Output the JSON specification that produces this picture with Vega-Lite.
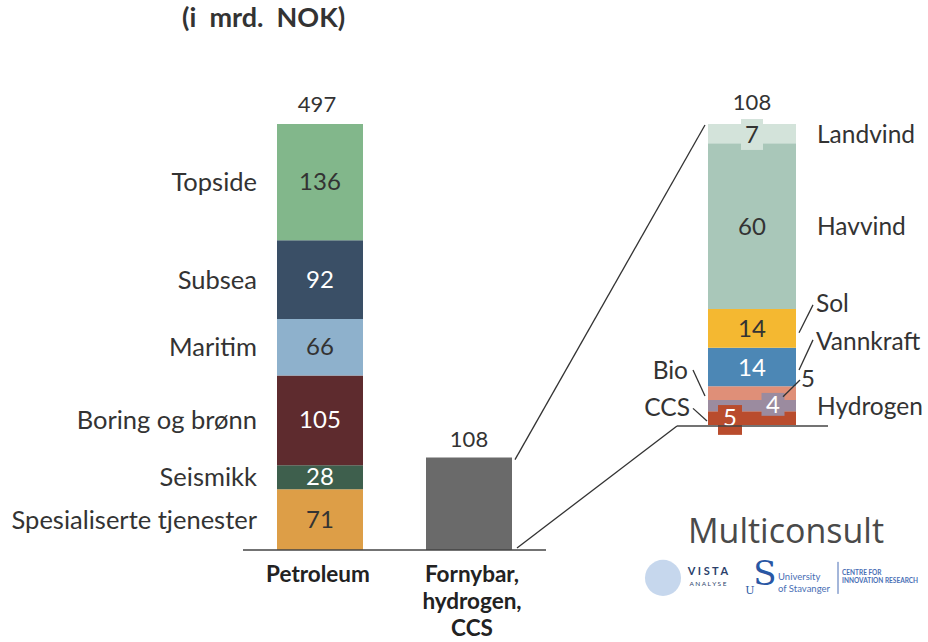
{
  "$schema": "https://vega.github.io/schema/vega-lite/v6.json",
  "width": 518,
  "height": 426,
  "autosize": "none",
  "padding": {"left": 277, "top": 124, "right": 133, "bottom": 92},
  "background": "white",
  "title": {"text": "(i\u00a0\u00a0mrd.\u00a0\u00a0NOK)", "anchor": "start", "frame": "group", "fontSize": 27, "font": "Lato", "fontWeight": "bold", "color": "#333333", "dx": -95, "offset": 59},
  "datasets": {
    "bars": [
      {"group": "Petroleum", "segment": "Spesialiserte tjenester", "value": 71, "rank": 1},
      {"group": "Petroleum", "segment": "Seismikk", "value": 28, "rank": 2},
      {"group": "Petroleum", "segment": "Boring og brønn", "value": 105, "rank": 3},
      {"group": "Petroleum", "segment": "Maritim", "value": 66, "rank": 4},
      {"group": "Petroleum", "segment": "Subsea", "value": 92, "rank": 5},
      {"group": "Petroleum", "segment": "Topside", "value": 136, "rank": 6},
      {"group": "Fornybar, hydrogen, CCS", "segment": "Fornybar, hydrogen, CCS", "value": 108, "rank": 1}
    ],
    "zoom": [
      {"group": "zoom", "segment": "CCS", "value": 5, "rank": 1},
      {"group": "zoom", "segment": "Hydrogen", "value": 4, "rank": 2},
      {"group": "zoom", "segment": "Bio", "value": 5, "rank": 3},
      {"group": "zoom", "segment": "Vannkraft", "value": 14, "rank": 4},
      {"group": "zoom", "segment": "Sol", "value": 14, "rank": 5},
      {"group": "zoom", "segment": "Havvind", "value": 60, "rank": 6},
      {"group": "zoom", "segment": "Landvind", "value": 7, "rank": 7}
    ],
    "totals": [
      {"group": "Petroleum", "total": 497},
      {"group": "Fornybar, hydrogen, CCS", "total": 108},
      {"group": "zoom", "total": 108}
    ],
    "one": [{}]
  },
  "layer": [
    {
      "layer": [
        {
          "data": {"name": "bars"},
          "transform": [{"filter": "datum.group == 'Petroleum'"}],
          "mark": {"type": "bar"},
          "encoding": {
            "x": {"field": "group", "type": "nominal",
                  "scale": {"type": "band", "domain": ["Petroleum", "Fornybar, hydrogen, CCS", "gap", "zoom"], "paddingInner": 0.4028, "paddingOuter": 0},
                  "axis": {"title": null, "domain": false, "ticks": false, "labelAngle": 0, "labelFont": "Lato", "labelFontWeight": "bold", "labelFontSize": 22.5, "labelColor": "#222222", "labelPadding": 13, "labelBaseline": "top", "labelLineHeight": 27, "labelLimit": 0, "labelOverlap": false, "labelBound": false,
                           "labelOffset": {"condition": {"test": "datum.value == 'Fornybar, hydrogen, CCS'", "value": 8}, "value": -2},
                           "labelExpr": "datum.value == 'Fornybar, hydrogen, CCS' ? ['Fornybar,', 'hydrogen,', 'CCS'] : (datum.value == 'Petroleum' ? 'Petroleum' : '')"}},
            "y": {"field": "value", "type": "quantitative", "stack": "zero", "scale": {"domain": [0, 498], "nice": false, "zero": false}, "axis": null},
            "color": {"field": "segment", "type": "nominal",
                      "scale": {"domain": ["Topside", "Subsea", "Maritim", "Boring og brønn", "Seismikk", "Spesialiserte tjenester", "Fornybar, hydrogen, CCS", "Landvind", "Havvind", "Sol", "Vannkraft", "Bio", "Hydrogen", "CCS"],
                                "range": ["#82b78b", "#3a4f66", "#8eb1cc", "#5e2b2e", "#3e5f4d", "#dd9e47", "#6a6a6a", "#d3e3da", "#a9c7b9", "#f4b831", "#4c87b5", "#df8f78", "#9b8b9f", "#b94c2d"]},
                      "legend": null},
            "order": {"field": "rank", "type": "quantitative", "sort": "ascending"}
          }
        },
        {
          "data": {"name": "bars"},
          "transform": [{"filter": "datum.group != 'Petroleum'"}],
          "mark": {"type": "bar", "xOffset": 5},
          "encoding": {
            "x": {"field": "group", "type": "nominal"},
            "y": {"field": "value", "type": "quantitative", "stack": "zero", "axis": null},
            "color": {"field": "segment", "type": "nominal", "legend": null},
            "order": {"field": "rank", "type": "quantitative"}
          }
        },
        {
          "data": {"name": "bars"},
          "transform": [{"filter": "datum.group == 'Petroleum'"}],
          "mark": {"type": "text", "fontSize": 24, "baseline": "middle", "dy": 1},
          "encoding": {
            "x": {"field": "group", "type": "nominal"},
            "y": {"field": "value", "type": "quantitative", "stack": "zero", "bandPosition": 0.5, "axis": null},
            "detail": {"field": "segment"},
            "order": {"field": "rank", "type": "quantitative"},
            "text": {"field": "value", "type": "quantitative"},
            "color": {"condition": {"test": "indexof(['Subsea', 'Boring og brønn', 'Seismikk'], datum.segment) >= 0", "value": "#ffffff"}, "value": "#333333"}
          }
        },
        {
          "data": {"name": "bars"},
          "transform": [{"filter": "datum.group == 'Petroleum'"}],
          "mark": {"type": "text", "fontSize": 25.5, "align": "right", "baseline": "middle", "dx": -63, "dy": 1, "color": "#333333"},
          "encoding": {
            "x": {"field": "group", "type": "nominal"},
            "y": {"field": "value", "type": "quantitative", "stack": "zero", "bandPosition": 0.5, "axis": null},
            "detail": {"field": "segment"},
            "order": {"field": "rank", "type": "quantitative"},
            "text": {"field": "segment", "type": "nominal"}
          }
        },
        {
          "data": {"name": "totals"},
          "transform": [{"filter": "datum.group == 'Petroleum'"}],
          "mark": {"type": "text", "fontSize": 22, "baseline": "middle", "dy": -20, "dx": -3, "color": "#333333"},
          "encoding": {
            "x": {"field": "group", "type": "nominal"},
            "y": {"field": "total", "type": "quantitative", "axis": null},
            "text": {"field": "total", "type": "quantitative"}
          }
        },
        {
          "data": {"name": "totals"},
          "transform": [{"filter": "datum.group == 'Fornybar, hydrogen, CCS'"}],
          "mark": {"type": "text", "fontSize": 22, "baseline": "middle", "dy": -18, "dx": 5, "color": "#333333"},
          "encoding": {
            "x": {"field": "group", "type": "nominal"},
            "y": {"field": "total", "type": "quantitative", "axis": null},
            "text": {"field": "total", "type": "quantitative"}
          }
        },
        {
          "data": {"name": "one"},
          "mark": {"type": "rule", "color": "#444444", "strokeWidth": 1.5, "xOffset": -77, "x2Offset": 82},
          "encoding": {
            "x": {"datum": "Petroleum", "type": "nominal", "bandPosition": 0.5},
            "x2": {"datum": "Fornybar, hydrogen, CCS", "bandPosition": 0.5},
            "y": {"datum": 0, "type": "quantitative", "axis": null}
          }
        },
        {
          "data": {"name": "one"},
          "mark": {"type": "rule", "color": "#333333", "strokeWidth": 1.3, "xOffset": 51, "yOffset": 2, "x2Offset": -47, "y2Offset": 1},
          "encoding": {
            "x": {"datum": "Fornybar, hydrogen, CCS", "type": "nominal", "bandPosition": 0.5},
            "x2": {"datum": "zoom", "bandPosition": 0.5},
            "y": {"datum": 108, "type": "quantitative", "axis": null},
            "y2": {"datum": 498}
          }
        },
        {
          "data": {"name": "one"},
          "mark": {"type": "rule", "color": "#333333", "strokeWidth": 1.3, "xOffset": 53, "yOffset": -2, "x2Offset": -75},
          "encoding": {
            "x": {"datum": "Fornybar, hydrogen, CCS", "type": "nominal", "bandPosition": 0.5},
            "x2": {"datum": "zoom", "bandPosition": 0.5},
            "y": {"datum": 0, "type": "quantitative", "axis": null},
            "y2": {"datum": 145}
          }
        }
      ]
    },
    {
      "layer": [
        {
          "data": {"name": "zoom"},
          "mark": {"type": "bar", "width": 88},
          "encoding": {
            "x": {"field": "group", "type": "nominal"},
            "y": {"field": "value", "type": "quantitative", "stack": "zero", "scale": {"domain": [-45.3, 109], "nice": false, "zero": false}, "axis": null},
            "color": {"field": "segment", "type": "nominal", "legend": null},
            "order": {"field": "rank", "type": "quantitative"}
          }
        },
        {
          "data": {"name": "one"},
          "mark": {"type": "bar", "width": 22, "color": "#d3e3da"},
          "encoding": {
            "x": {"datum": "zoom", "type": "nominal"},
            "y": {"datum": 99.6, "type": "quantitative", "axis": null},
            "y2": {"datum": 110.8}
          }
        },
        {
          "data": {"name": "one"},
          "mark": {"type": "bar", "width": 23, "color": "#9b8b9f", "xOffset": 21},
          "encoding": {
            "x": {"datum": "zoom", "type": "nominal"},
            "y": {"datum": 3.3, "type": "quantitative", "axis": null},
            "y2": {"datum": 11.6}
          }
        },
        {
          "data": {"name": "one"},
          "mark": {"type": "bar", "width": 24, "color": "#b94c2d", "xOffset": -22},
          "encoding": {
            "x": {"datum": "zoom", "type": "nominal"},
            "y": {"datum": -3.6, "type": "quantitative", "axis": null},
            "y2": {"datum": 7.2}
          }
        },
        {
          "data": {"name": "zoom"},
          "mark": {"type": "text", "fontSize": 24, "baseline": "middle", "dy": 2},
          "encoding": {
            "x": {"field": "group", "type": "nominal"},
            "y": {"field": "value", "type": "quantitative", "stack": "zero", "bandPosition": 0.5, "axis": null},
            "detail": {"field": "segment"},
            "order": {"field": "rank", "type": "quantitative"},
            "text": {"condition": {"test": "indexof(['Landvind', 'Havvind', 'Sol', 'Vannkraft'], datum.segment) >= 0", "field": "value", "type": "quantitative"}, "value": ""},
            "color": {"condition": {"test": "datum.segment == 'Vannkraft'", "value": "#ffffff"}, "value": "#333333"}
          }
        },
        {
          "data": {"name": "zoom"},
          "mark": {"type": "text", "fontSize": 24, "baseline": "middle", "dx": 21, "dy": 0, "color": "#ffffff"},
          "encoding": {
            "x": {"field": "group", "type": "nominal"},
            "y": {"field": "value", "type": "quantitative", "stack": "zero", "bandPosition": 0.5, "axis": null},
            "detail": {"field": "segment"},
            "order": {"field": "rank", "type": "quantitative"},
            "text": {"condition": {"test": "datum.segment == 'Hydrogen'", "field": "value", "type": "quantitative"}, "value": ""}
          }
        },
        {
          "data": {"name": "zoom"},
          "mark": {"type": "text", "fontSize": 24, "baseline": "middle", "dx": -22, "dy": 1, "color": "#ffffff"},
          "encoding": {
            "x": {"field": "group", "type": "nominal"},
            "y": {"field": "value", "type": "quantitative", "stack": "zero", "bandPosition": 0.5, "axis": null},
            "detail": {"field": "segment"},
            "order": {"field": "rank", "type": "quantitative"},
            "text": {"condition": {"test": "datum.segment == 'CCS'", "field": "value", "type": "quantitative"}, "value": ""}
          }
        },
        {
          "data": {"name": "zoom"},
          "mark": {"type": "text", "fontSize": 24, "baseline": "middle", "dx": 56, "dy": -13, "color": "#333333"},
          "encoding": {
            "x": {"field": "group", "type": "nominal"},
            "y": {"field": "value", "type": "quantitative", "stack": "zero", "bandPosition": 0.5, "axis": null},
            "detail": {"field": "segment"},
            "order": {"field": "rank", "type": "quantitative"},
            "text": {"condition": {"test": "datum.segment == 'Bio'", "field": "value", "type": "quantitative"}, "value": ""}
          }
        },
        {
          "data": {"name": "zoom"},
          "mark": {"type": "text", "fontSize": 24.5, "align": "left", "baseline": "middle", "dx": 65, "dy": 2, "color": "#333333"},
          "encoding": {
            "x": {"field": "group", "type": "nominal"},
            "y": {"field": "value", "type": "quantitative", "stack": "zero", "bandPosition": 0.5, "axis": null},
            "detail": {"field": "segment"},
            "order": {"field": "rank", "type": "quantitative"},
            "text": {"condition": {"test": "indexof(['Landvind', 'Havvind', 'Hydrogen'], datum.segment) >= 0", "field": "segment", "type": "nominal"}, "value": ""}
          }
        },
        {
          "data": {"name": "zoom"},
          "mark": {"type": "text", "fontSize": 24.5, "align": "left", "baseline": "middle", "dx": 64, "dy": -23.5, "color": "#333333"},
          "encoding": {
            "x": {"field": "group", "type": "nominal"},
            "y": {"field": "value", "type": "quantitative", "stack": "zero", "bandPosition": 0.5, "axis": null},
            "detail": {"field": "segment"},
            "order": {"field": "rank", "type": "quantitative"},
            "text": {"condition": {"test": "indexof(['Sol', 'Vannkraft'], datum.segment) >= 0", "field": "segment", "type": "nominal"}, "value": ""}
          }
        },
        {
          "data": {"name": "zoom"},
          "mark": {"type": "text", "fontSize": 24.5, "align": "right", "baseline": "middle", "dx": -64, "dy": -21, "color": "#333333"},
          "encoding": {
            "x": {"field": "group", "type": "nominal"},
            "y": {"field": "value", "type": "quantitative", "stack": "zero", "bandPosition": 0.5, "axis": null},
            "detail": {"field": "segment"},
            "order": {"field": "rank", "type": "quantitative"},
            "text": {"condition": {"test": "datum.segment == 'Bio'", "field": "segment", "type": "nominal"}, "value": ""}
          }
        },
        {
          "data": {"name": "zoom"},
          "mark": {"type": "text", "fontSize": 24.5, "align": "right", "baseline": "middle", "dx": -62, "dy": -9, "color": "#333333"},
          "encoding": {
            "x": {"field": "group", "type": "nominal"},
            "y": {"field": "value", "type": "quantitative", "stack": "zero", "bandPosition": 0.5, "axis": null},
            "detail": {"field": "segment"},
            "order": {"field": "rank", "type": "quantitative"},
            "text": {"condition": {"test": "datum.segment == 'CCS'", "field": "segment", "type": "nominal"}, "value": ""}
          }
        },
        {
          "data": {"name": "one"},
          "mark": {"type": "rule", "color": "#333333", "strokeWidth": 1.3, "xOffset": 47, "x2Offset": 61},
          "encoding": {"x": {"datum": "zoom", "type": "nominal", "bandPosition": 0.5}, "x2": {"datum": "zoom", "bandPosition": 0.5}, "y": {"datum": 33.4, "type": "quantitative", "axis": null}, "y2": {"datum": 43.5}}
        },
        {
          "data": {"name": "one"},
          "mark": {"type": "rule", "color": "#333333", "strokeWidth": 1.3, "xOffset": 47, "x2Offset": 61},
          "encoding": {"x": {"datum": "zoom", "type": "nominal", "bandPosition": 0.5}, "x2": {"datum": "zoom", "bandPosition": 0.5}, "y": {"datum": 19.9, "type": "quantitative", "axis": null}, "y2": {"datum": 30.8}}
        },
        {
          "data": {"name": "one"},
          "mark": {"type": "rule", "color": "#333333", "strokeWidth": 1.3, "xOffset": 31, "x2Offset": 48},
          "encoding": {"x": {"datum": "zoom", "type": "nominal", "bandPosition": 0.5}, "x2": {"datum": "zoom", "bandPosition": 0.5}, "y": {"datum": 10.2, "type": "quantitative", "axis": null}, "y2": {"datum": 16.3}}
        },
        {
          "data": {"name": "one"},
          "mark": {"type": "rule", "color": "#333333", "strokeWidth": 1.3, "xOffset": -47, "x2Offset": -59},
          "encoding": {"x": {"datum": "zoom", "type": "nominal", "bandPosition": 0.5}, "x2": {"datum": "zoom", "bandPosition": 0.5}, "y": {"datum": 10.5, "type": "quantitative", "axis": null}, "y2": {"datum": 19.9}}
        },
        {
          "data": {"name": "one"},
          "mark": {"type": "rule", "color": "#333333", "strokeWidth": 1.3, "xOffset": -45, "x2Offset": -59},
          "encoding": {"x": {"datum": "zoom", "type": "nominal", "bandPosition": 0.5}, "x2": {"datum": "zoom", "bandPosition": 0.5}, "y": {"datum": 1.4, "type": "quantitative", "axis": null}, "y2": {"datum": 6.0}}
        },
        {
          "data": {"name": "one"},
          "mark": {"type": "rule", "color": "#444444", "strokeWidth": 1.5, "xOffset": -75, "x2Offset": 76, "yOffset": 1},
          "encoding": {"x": {"datum": "zoom", "type": "nominal", "bandPosition": 0.5}, "x2": {"datum": "zoom", "bandPosition": 0.5}, "y": {"datum": 0, "type": "quantitative", "axis": null}}
        },
        {
          "data": {"name": "totals"},
          "transform": [{"filter": "datum.group == 'zoom'"}],
          "mark": {"type": "text", "fontSize": 22, "baseline": "middle", "dy": -24, "color": "#333333"},
          "encoding": {
            "x": {"field": "group", "type": "nominal"},
            "y": {"field": "total", "type": "quantitative", "axis": null},
            "text": {"field": "total", "type": "quantitative"}
          }
        },
        {
          "data": {"name": "one"},
          "mark": {"type": "text", "text": "Multiconsult", "font": "Open Sans", "fontSize": 34, "fontWeight": 500, "baseline": "middle", "dx": 34, "color": "#4a4a4a"},
          "encoding": {"x": {"datum": "zoom", "type": "nominal"}, "y": {"datum": -39.1, "type": "quantitative", "axis": null}}
        },
        {
          "data": {"name": "one"},
          "mark": {"type": "point", "shape": "circle", "filled": true, "size": 1300, "opacity": 0.85, "color": "#bcd0ea", "xOffset": -89},
          "encoding": {"x": {"datum": "zoom", "type": "nominal"}, "y": {"datum": -55.4, "type": "quantitative", "axis": null}}
        },
        {
          "data": {"name": "one"},
          "mark": {"type": "text", "text": "V I S T A", "fontSize": 11, "fontWeight": "bold", "baseline": "middle", "dx": -44, "color": "#2b3f6b"},
          "encoding": {"x": {"datum": "zoom", "type": "nominal"}, "y": {"datum": -53.2, "type": "quantitative", "axis": null}}
        },
        {
          "data": {"name": "one"},
          "mark": {"type": "text", "text": "A N A L Y S E", "fontSize": 6.5, "baseline": "middle", "dx": -44, "color": "#2b3f6b"},
          "encoding": {"x": {"datum": "zoom", "type": "nominal"}, "y": {"datum": -57.6, "type": "quantitative", "axis": null}}
        },
        {
          "data": {"name": "one"},
          "mark": {"type": "text", "text": "S", "font": "DejaVu Serif", "fontSize": 34, "baseline": "middle", "dx": 13, "color": "#2957a4"},
          "encoding": {"x": {"datum": "zoom", "type": "nominal"}, "y": {"datum": -54.3, "type": "quantitative", "axis": null}}
        },
        {
          "data": {"name": "one"},
          "mark": {"type": "text", "text": "U", "font": "DejaVu Serif", "fontSize": 11, "baseline": "middle", "dx": -2, "color": "#2957a4"},
          "encoding": {"x": {"datum": "zoom", "type": "nominal"}, "y": {"datum": -60, "type": "quantitative", "axis": null}}
        },
        {
          "data": {"name": "one"},
          "mark": {"type": "text", "text": ["University", "of Stavanger"], "fontSize": 9.5, "align": "left", "baseline": "middle", "lineHeight": 12, "dx": 26, "color": "#4a6fb5"},
          "encoding": {"x": {"datum": "zoom", "type": "nominal"}, "y": {"datum": -55.1, "type": "quantitative", "axis": null}}
        },
        {
          "data": {"name": "one"},
          "mark": {"type": "rule", "color": "#4a6fb5", "strokeWidth": 1, "xOffset": 86},
          "encoding": {"x": {"datum": "zoom", "type": "nominal"}, "y": {"datum": -49.6, "type": "quantitative", "axis": null}, "y2": {"datum": -61.2}}
        },
        {
          "data": {"name": "one"},
          "mark": {"type": "text", "text": ["CENTRE FOR", "INNOVATION RESEARCH"], "fontSize": 6.5, "fontWeight": "bold", "align": "left", "baseline": "middle", "lineHeight": 8, "dx": 90, "color": "#4a6fb5"},
          "encoding": {"x": {"datum": "zoom", "type": "nominal"}, "y": {"datum": -53.6, "type": "quantitative", "axis": null}}
        }
      ]
    }
  ],
  "resolve": {"scale": {"y": "independent"}},
  "config": {"view": {"stroke": null}, "font": "Lato", "text": {"font": "Lato"}}
}
